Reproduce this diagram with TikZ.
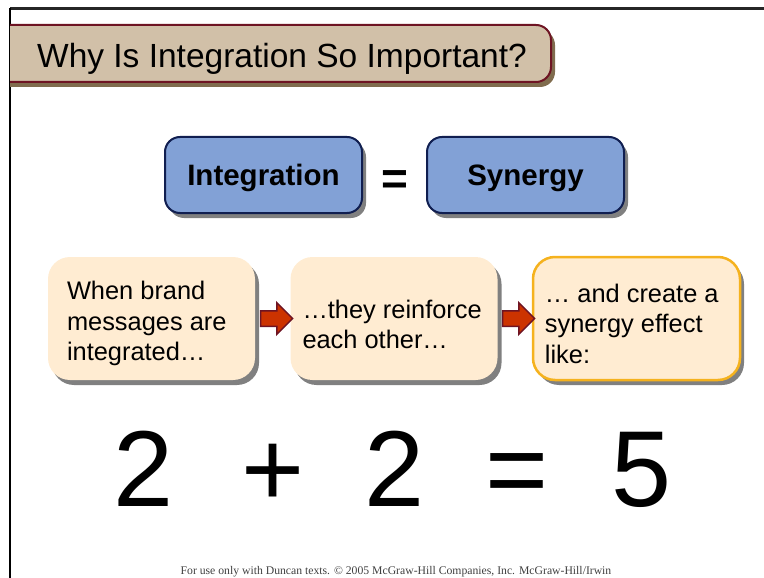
\documentclass[tikz,border=0pt]{standalone}
\usepackage{fontspec}
\setmainfont{Liberation Sans}
\newfontfamily\footfont{Liberation Serif}
\usetikzlibrary{positioning,calc,shapes.arrows,shadows}
\definecolor{bannerfill}{RGB}{209,192,168}
\definecolor{bannerline}{RGB}{110,20,35}
\definecolor{bannershade}{RGB}{128,108,78}
\definecolor{bluefill}{RGB}{130,161,214}
\definecolor{blueline}{RGB}{16,30,80}
\definecolor{creamfill}{RGB}{255,236,210}
\definecolor{goldline}{RGB}{245,178,30}
\definecolor{arrowfill}{RGB}{204,51,0}
\tikzset{
  boxshadow/.style={drop shadow={shadow xshift=4pt, shadow yshift=-5pt, fill=black!50, opacity=1}},
  keybox/.style={rectangle, rounded corners=15pt, draw=blueline, fill=bluefill, line width=2pt, minimum width=197pt, minimum height=76pt, text depth=0pt, font=\fontsize{29.5}{34}\selectfont\bfseries, boxshadow},
  stepbox/.style={rectangle, rounded corners=22pt, fill=creamfill, minimum width=207pt, minimum height=123pt, boxshadow},
  steptext/.style={anchor=west, align=left, inner sep=0pt, font=\fontsize{25.4}{30.5}\selectfont},
  flow/.style={single arrow, single arrow head extend=8pt, minimum height=32pt, inner sep=7pt, fill=arrowfill, draw=bannerline, line width=1.5pt},
  bigsym/.style={anchor=base, inner sep=0pt, font=\fontsize{108}{108}\selectfont}
}
\begin{document}
\begin{tikzpicture}[x=1pt,y=-1pt]
  \useasboundingbox (0,0) rectangle (764,578);
  % frame
  \draw[line width=2.5pt, black!85] (10,8.5) -- (764,8.5);
  \draw[line width=1.5pt] (10,8) -- (10,578);
  % title banner
  \fill[bannershade, rounded corners=15pt] (10,30) -- (555,30) -- (555,87) -- (10,87);
  \fill[bannerfill, rounded corners=15pt] (10,25) -- (551,25) -- (551,82) -- (10,82);
  \draw[bannerline, line width=2pt, rounded corners=15pt] (10,25) -- (551,25) -- (551,82) -- (10,82);
  \node[font=\fontsize{33.5}{40}\selectfont] (title) at (282,59) {Why Is Integration So Important?};

  \node[keybox] (integ) at (263.5,175) {Integration};
  \node[keybox] (syn) at (525.5,175) {Synergy};
  \node[font=\fontsize{46}{46}\selectfont\bfseries] (eq) at ($(integ.east)!0.5!(syn.west)+(0,8)$) {=};

  % the three steps
  \node[stepbox] (msg) at (151.5,318.5) {};
  \node[stepbox] (rein) at (394,318.5) {};
  \node[stepbox, draw=goldline, line width=2.5pt] (eff) at (636.5,318.5) {};
  \node[steptext] (msgt) at ([xshift=19pt,yshift=-5pt]msg.west) {When brand\\messages are\\integrated…};
  \node[steptext] (reint) at ([xshift=12pt,yshift=-6pt]rein.west) {…they reinforce\\each other…};
  \node[steptext] (efft) at ([xshift=13pt,yshift=-5pt]eff.west) {… and create a\\synergy effect\\like:};
  \node[flow] (ar1) at ($(msg.east)!0.5!(rein.west)$) {};
  \node[flow] (ar2) at ($(rein.east)!0.5!(eff.west)$) {};

  \node[bigsym] (two) at (143.5,506) {2};
  \node[bigsym] (plus) at (273,506) {+};
  \node[bigsym] (twob) at (395,506) {2};
  \node[bigsym] (same) at (517,506) {=};
  \node[bigsym] (five) at (641.5,506) {5};

  \node[font=\footfont\fontsize{11.7}{13}\selectfont, text=black!75] (foot) at (396,572) {For use only with Duncan texts. © 2005 McGraw-Hill Companies, Inc. McGraw-Hill/Irwin};
\end{tikzpicture}
\end{document}
